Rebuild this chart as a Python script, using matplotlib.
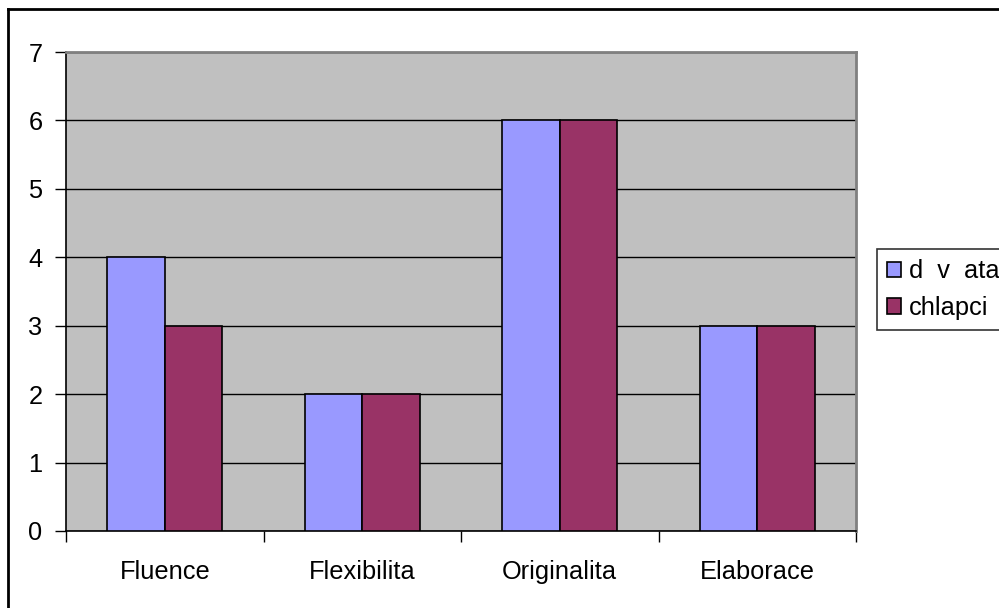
import matplotlib.pyplot as plt
import numpy as np
from matplotlib.lines import Line2D

plt.rcParams['font.family'] = ['Liberation Sans', 'DejaVu Sans']

categories = ['Fluence', 'Flexibilita', 'Originalita', 'Elaborace']
divcata = [4, 2, 6, 3]
chlapci = [3, 2, 6, 3]
series_names = ['d  v  ata', 'chlapci']

W, H = 999, 608
fig = plt.figure(figsize=(W / 100, H / 100), dpi=100)
ax = fig.add_axes([66 / W, 1 - 531 / H, 790 / W, 479 / H])
ax.set_facecolor('#C0C0C0')

x = np.arange(len(categories))
bw = 0.29
ax.bar(x - bw / 2, divcata, bw, color='#9999FF', edgecolor='black', linewidth=1.2,
       label=series_names[0], zorder=3)
ax.bar(x + bw / 2, chlapci, bw, color='#993366', edgecolor='black', linewidth=1.2,
       label=series_names[1], zorder=3)

ax.set_xlim(-0.5, 3.5)
ax.set_ylim(0, 7)
ax.set_yticks(range(8))
ax.yaxis.grid(True, color='black', linewidth=1, zorder=1)
ax.set_axisbelow(True)

# category boundaries get the ticks, labels sit in the middle
ax.set_xticks(np.arange(-0.5, 4, 1))
ax.set_xticklabels([])
ax.set_xticks(x, minor=True)
ax.set_xticklabels(categories, minor=True)
ax.tick_params(axis='x', which='minor', length=0, pad=21, labelsize=18.3)
ax.tick_params(axis='x', which='major', length=8, width=1, direction='out')
ax.tick_params(axis='y', length=8, width=1, direction='out', pad=9, labelsize=18.3)

for s in ['top', 'right']:
    ax.spines[s].set_color('#808080')
    ax.spines[s].set_linewidth(2)
for s in ['left', 'bottom']:
    ax.spines[s].set_color('black')
    ax.spines[s].set_linewidth(1.2)

leg = fig.legend(loc='upper left', bbox_to_anchor=(877 / W, 1 - 249 / H),
                 fontsize=18.3, frameon=True, fancybox=False, edgecolor='black',
                 handlelength=0.55, handleheight=0.55, handletextpad=0.3,
                 labelspacing=0.5, borderpad=0.4, borderaxespad=0)
leg.get_frame().set_linewidth(1.2)

# outer chart border (top and left edges visible)
fig.add_artist(Line2D([8 / W, 8 / W], [1 - 9 / H, 0], color='black', linewidth=2,
                      transform=fig.transFigure))
fig.add_artist(Line2D([8 / W, 1], [1 - 9 / H, 1 - 9 / H], color='black', linewidth=2,
                      transform=fig.transFigure))

fig.savefig('out.png', dpi=100)
